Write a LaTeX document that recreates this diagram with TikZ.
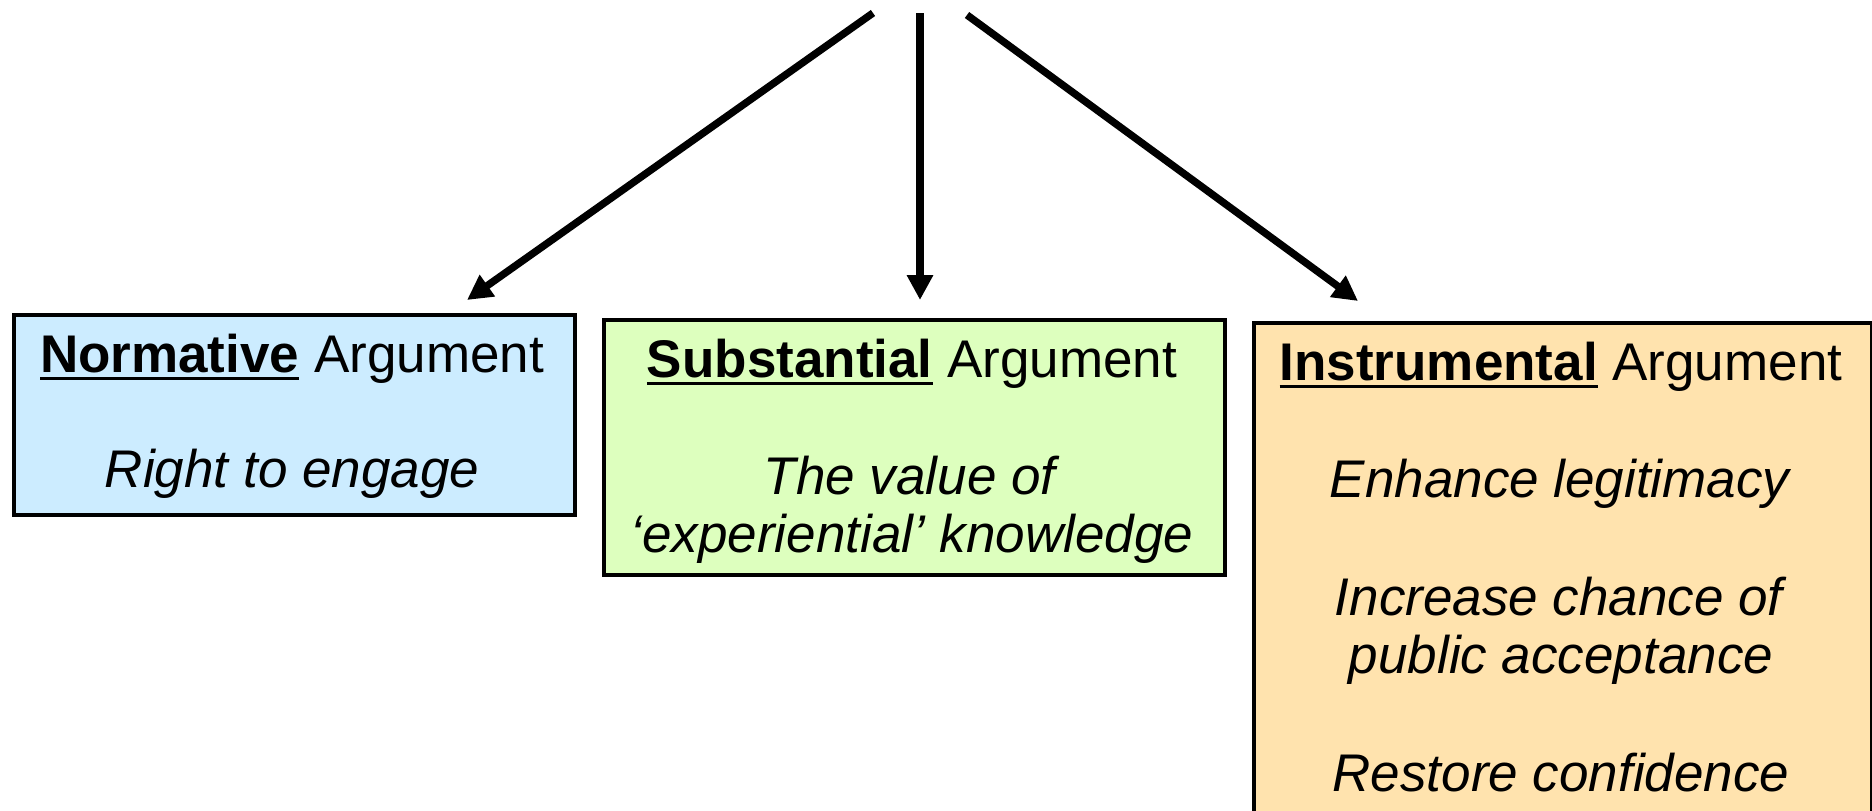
\documentclass[tikz,border=0pt]{standalone}
\usepackage{fontspec}
\setmainfont{Liberation Sans}
\usetikzlibrary{arrows.meta}

% underline drawn as a rule a little below the baseline
\newcommand{\ulbox}[1]{\setbox0\hbox{#1}\rlap{\vrule width\wd0 height -5pt depth 8pt}\box0\relax}

\definecolor{normfill}{HTML}{CCECFF}
\definecolor{substfill}{HTML}{DDFFBE}
\definecolor{instrfill}{HTML}{FFE3AE}

\begin{document}
\begin{tikzpicture}[x=1pt,y=-1pt,
  argbox/.style={draw=black, line width=3.6pt, rectangle, inner sep=0pt, anchor=north west},
  label/.style={anchor=base, inner sep=0pt, font=\fontsize{53pt}{58.5pt}\selectfont},
  branch/.style={draw=black, line width=7.4pt, -{Triangle[length=25pt,width=25pt]}}]

\useasboundingbox (0,0) rectangle (1872,811);
\clip (0,0) rectangle (1872,811);

% argument boxes
\node[argbox, fill=normfill, minimum width=561pt, minimum height=200pt] (norm) at (12,313) {};
\node[argbox, fill=substfill, minimum width=621pt, minimum height=255pt] (subst) at (602,318) {};
\node[argbox, fill=instrfill, minimum width=618pt, minimum height=560pt] (instr) at (1252,321) {};

% normative
\node[label] (normhead) at (292,372) {\ulbox{\textbf{Normative}} Argument};
\node[label] (normtext) at (292,487) {\textit{Right to engage}};

% substantial
\node[label] (substhead) at (912,377) {\ulbox{\textbf{Substantial}} Argument};
\node[label] (substa) at (912,494) {\textit{The value of}};
\node[label] (substb) at (912,552.5) {\textit{‘experiential’ knowledge}};

% instrumental
\node[label] (instrhead) at (1561,380) {\ulbox{\textbf{Instrumental}} Argument};
\node[label] (instra) at (1561,497) {\textit{Enhance legitimacy}};
\node[label] (instrb) at (1561,615) {\textit{Increase chance of}};
\node[label] (instrc) at (1561,673) {\textit{public acceptance}};
\node[label] (instrd) at (1561,791) {\textit{Restore confidence}};

% branching arrows
\coordinate (srcl) at (873,13);
\coordinate (srcm) at (920,13);
\coordinate (srcr) at (967,15);
\coordinate (tipl) at (467,300);
\coordinate (tipm) at (920,300);
\coordinate (tipr) at (1358,301);
\draw[branch] (srcl) -- (tipl);
\draw[branch] (srcm) -- (tipm);
\draw[branch] (srcr) -- (tipr);
\end{tikzpicture}
\end{document}
